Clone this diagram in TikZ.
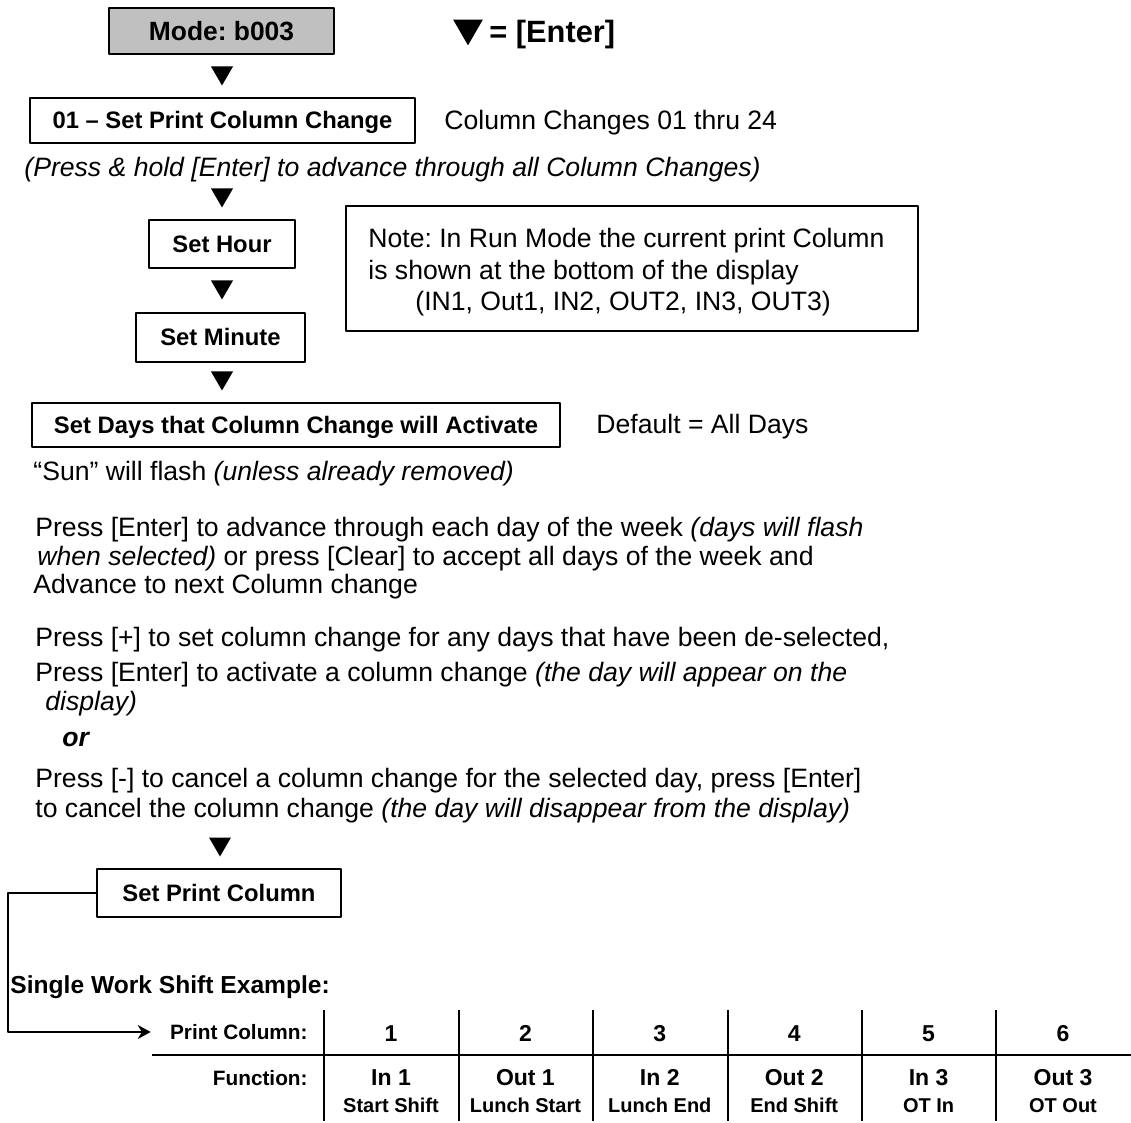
\documentclass[tikz,border=0pt]{standalone}
\usepackage{fontspec}
\setmainfont{Liberation Sans}
\usetikzlibrary{arrows.meta}
\definecolor{modegray}{HTML}{C0C0C0}
\newcommand\fsz[2]{\fontsize{#1}{#2}\selectfont}
\tikzset{dn/.pic={\fill (-11,-9.5) -- (11,-9.5) -- (0,9.5) -- cycle;}}
\frenchspacing
\begin{document}
\begin{tikzpicture}[x=0.5pt, y=-0.5pt, line join=round,
	box/.style={draw, line width=1.25pt, inner sep=0pt, font=\bfseries\fsz{11.9}{14}, text height=8.5pt, text depth=0pt},
	txt/.style={anchor=west, inner sep=0pt, font=\fsz{13.3}{16}, text height=9.5pt, text depth=0pt},
	hd/.style={anchor=east, inner sep=0pt, font=\bfseries\fsz{10.4}{12}, text height=7.5pt, text depth=0pt},
	num/.style={inner sep=0pt, font=\bfseries\fsz{11.5}{14}, text height=8.2pt, text depth=0pt},
	sub/.style={inner sep=0pt, font=\bfseries\fsz{10}{12}, text height=7.2pt, text depth=0pt},
	tab/.style={line width=1pt}]
	\useasboundingbox (0,0) rectangle (1131,1123);
	\node[box, fill=modegray, minimum width=112.5pt, minimum height=23pt, font=\bfseries\fsz{13.2}{16}, text height=9.4pt] (mode) at (221.5,31) {Mode: b003};
	\pic[scale=1.35] at (468,32.5) {dn};
	\node[txt, font=\bfseries\fsz{15.4}{18}, text height=11pt] (enter) at (489,32) {= [Enter]};
	\foreach \y in {76,198,290,381} \pic at (222,\y) {dn};
	\node[box, minimum width=192.5pt, minimum height=22.5pt] (chg) at (222.5,120.5) {01 -- Set Print Column Change};
	\node[txt] (rng) at (444,120) {Column Changes 01 thru 24};
	\node[txt, font=\itshape\fsz{13.3}{16}] (hold) at (24,167) {(Press \& hold [Enter] to advance through all Column Changes)};
	\node[box, minimum width=73pt, minimum height=24pt] (hour) at (222,244) {Set Hour};
	\node[box, minimum width=84.5pt, minimum height=24.5pt] (min) at (220.5,337.5) {Set Minute};
	\node[draw, line width=1.25pt, minimum width=286pt, minimum height=62.5pt] (note) at (632,268.5) {};
	\node[txt] (n1) at (368,238) {Note: In Run Mode the current print Column};
	\node[txt] (n2) at (368,270) {is shown at the bottom of the display};
	\node[txt] (n3) at (415,301) {(IN1, Out1, IN2, OUT2, IN3, OUT3)};
	\node[box, minimum width=264pt, minimum height=22pt] (days) at (296,425) {Set Days that Column Change will Activate};
	\node[txt] (dflt) at (596,424) {Default = All Days};
	\node[txt] (sun) at (33,471) {“Sun” will flash \textit{(unless already removed)}};
	\node[txt] (p1) at (35,527) {Press [Enter] to advance through each day of the week \textit{(days will flash}};
	\node[txt] (p2) at (37,556) {\textit{when selected)} or press [Clear] to accept all days of the week and};
	\node[txt] (p3) at (33,584) {Advance to next Column change};
	\node[txt] (p4) at (35,637) {Press [+] to set column change for any days that have been de-selected,};
	\node[txt] (p5) at (35,672) {Press [Enter] to activate a column change \textit{(the day will appear on the}};
	\node[txt] (p6) at (45,701) {\textit{display)}};
	\node[txt, font=\bfseries\itshape\fsz{13.3}{16}] (or) at (62,737) {or};
	\node[txt] (p7) at (35,778) {Press [-] to cancel a column change for the selected day, press [Enter]};
	\node[txt] (p8) at (35,808) {to cancel the column change \textit{(the day will disappear from the display)}};
	\pic at (220,847) {dn};
	\node[box, minimum width=122pt, minimum height=24pt] (spc) at (219,893) {Set Print Column};
	\node[txt, font=\bfseries\fsz{12.3}{15}, text height=8.8pt] (ex) at (10,985) {Single Work Shift Example:};
	\node[hd] (pc) at (308,1032) {Print Column:};
	\node[hd] (fn) at (308,1078) {Function:};
	\foreach \a/\b/\c [count=\i] in {1/In 1/Start Shift, 2/Out 1/Lunch Start, 3/In 2/Lunch End, 4/Out 2/End Shift, 5/In 3/OT In, 6/Out 3/OT Out}{
		\node[num] (c\i) at ({391+134.4*(\i-1)},1033) {\a};
		\node[num] (f\i) at ({391+134.4*(\i-1)},1077) {\b};
		\node[sub] (s\i) at ({391+134.4*(\i-1)},1105) {\c};
	}
	\foreach \x in {324,459,593,728,862,996} \draw[tab] (\x,1010) -- (\x,1121);
	\draw[tab] (152,1055) -- (1131,1055);
	\draw[line width=1pt, -{Stealth[length=6.5pt,width=7pt]}] (spc.west) -- ++(-88,0) |- ([xshift=-9.5pt]pc.west);
\end{tikzpicture}
\end{document}
